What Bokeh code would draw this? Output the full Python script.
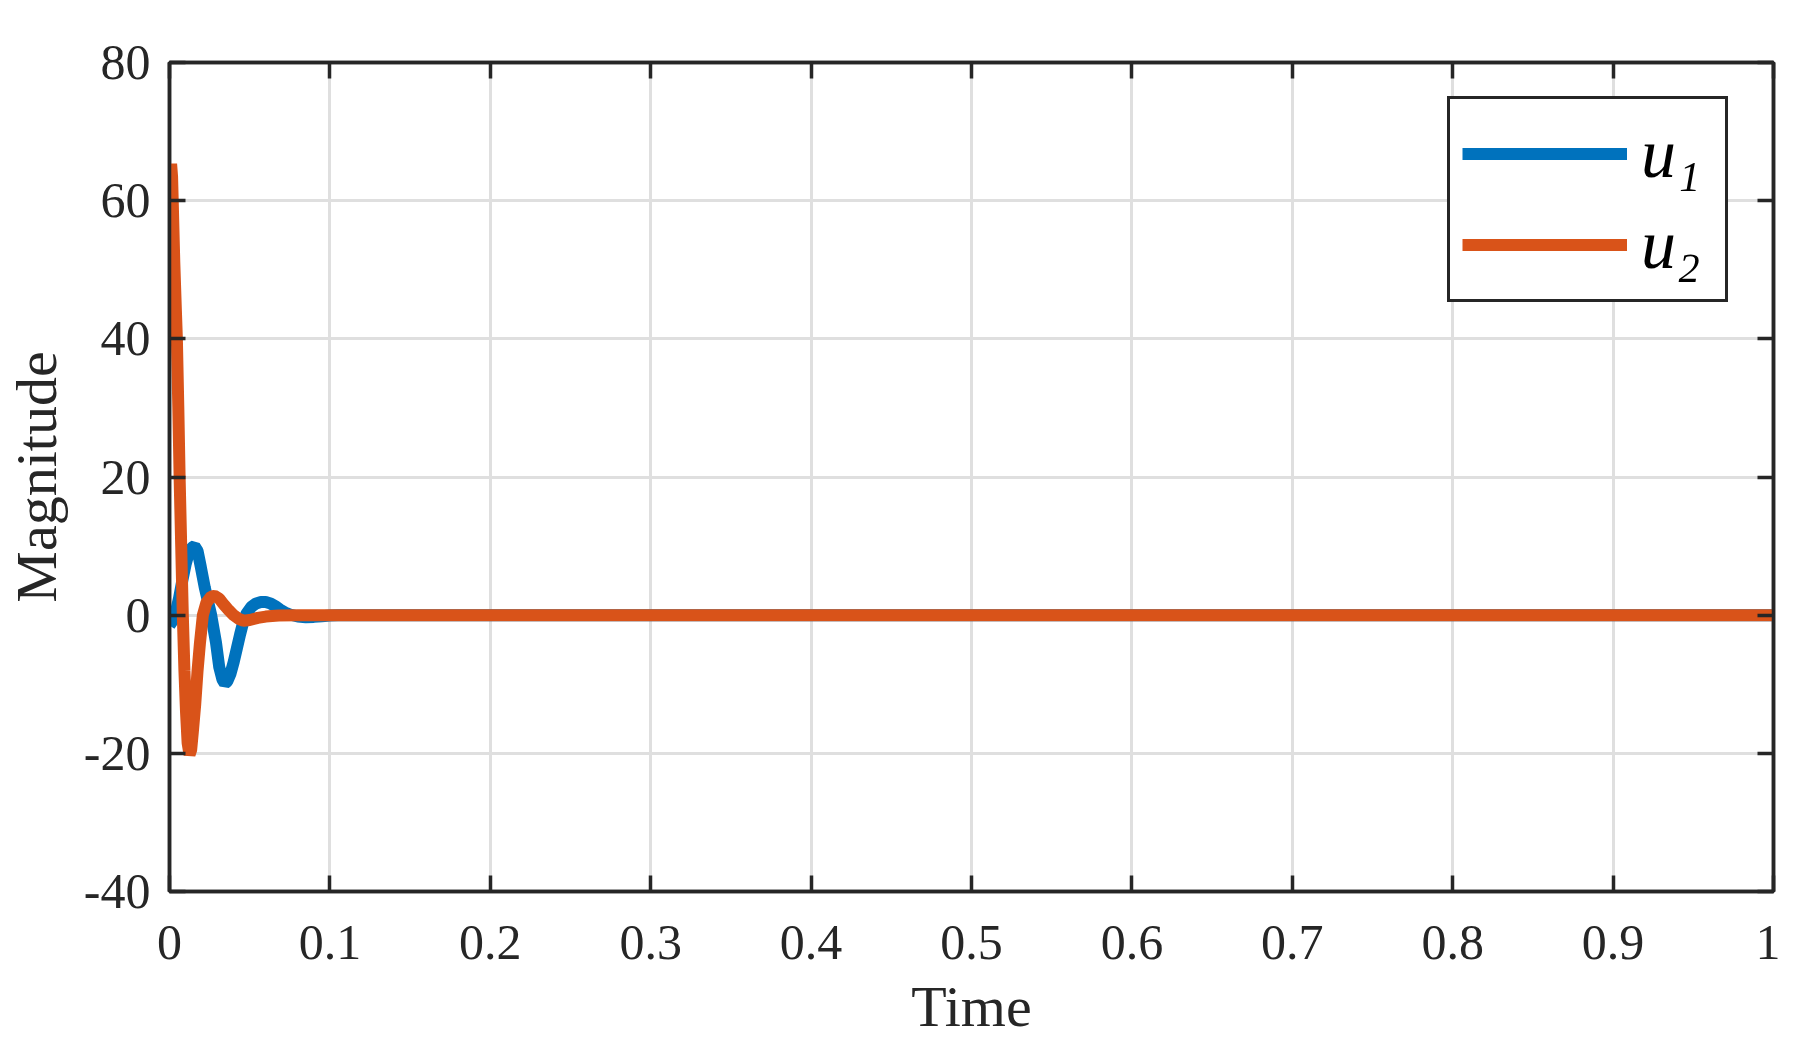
from bokeh.plotting import figure
from bokeh.models import (ColumnDataSource, LinearAxis, FixedTicker, Legend, LegendItem,
                          Range1d, CustomJSTickFormatter)
from bokeh.embed import file_html
from bokeh.resources import INLINE

# ---- data ----
t_u1 = [0, 0.002, 0.004, 0.006, 0.008, 0.010, 0.012, 0.014, 0.0156, 0.0175, 0.0195,
        0.022, 0.026, 0.029, 0.031, 0.033, 0.0345, 0.036, 0.038, 0.040, 0.042, 0.044,
        0.046, 0.048, 0.051, 0.054, 0.057, 0.060, 0.063, 0.066, 0.069, 0.072, 0.075,
        0.080, 0.085, 0.090, 0.095, 0.100, 0.105, 1.0]
u1 = [-1.5, -0.8, 0.5, 2.5, 5.0, 7.3, 9.0, 9.8, 10.0, 9.3, 7.0,
      4.0, 0.0, -4.0, -7.5, -9.3, -9.9, -9.6, -8.5, -6.8, -4.8, -2.8,
      -1.0, 0.2, 1.2, 1.7, 1.9, 1.9, 1.7, 1.3, 0.8, 0.4, 0.1,
      -0.2, -0.3, -0.25, -0.15, -0.05, 0.0, 0.0]

t_u2 = [0, 0.0004, 0.001, 0.0016, 0.002, 0.003, 0.004, 0.0046, 0.0055, 0.0063, 0.0073,
        0.0083, 0.0093, 0.0103, 0.0113, 0.0125, 0.0135, 0.0145, 0.016, 0.0175, 0.019,
        0.0208, 0.023, 0.026, 0.028, 0.031, 0.034, 0.037, 0.040, 0.043, 0.046, 0.050,
        0.055, 0.060, 0.068, 0.080, 1.0]
u2 = [60.0, 64.0, 65.3, 63.5, 60.0, 51.0, 44.0, 40.0, 30.0, 20.0, 10.0,
      0.0, -8.0, -14.0, -18.5, -20.2, -19.5, -17.0, -13.0, -8.0, -4.0,
      0.0, 1.8, 2.7, 2.8, 2.4, 1.5, 0.7, 0.0, -0.5, -0.8, -0.7,
      -0.4, -0.2, -0.05, 0.0, 0.0]

x_ticks = [0, 0.1, 0.2, 0.3, 0.4, 0.5, 0.6, 0.7, 0.8, 0.9, 1.0]
x_tick_labels = ["0", "0.1", "0.2", "0.3", "0.4", "0.5", "0.6", "0.7", "0.8", "0.9", "1"]
y_ticks = [-40, -20, 0, 20, 40, 60, 80]
y_tick_labels = ["-40", "-20", "0", "20", "40", "60", "80"]
series_names = ["u\u2081", "u\u2082"]
x_label = "Time"
y_label = "Magnitude"

# ---- style ----
BLUE = "#0072BD"
ORANGE = "#D95319"
AX = "#262626"
GRID = "#DFDFDF"
FONT = "Liberation Serif"

p = figure(width=1780, height=1044, output_backend="svg", toolbar_location=None,
           x_range=Range1d(0, 1), y_range=Range1d(-40, 80),
           min_border_left=161, min_border_right=7, min_border_top=62, min_border_bottom=153)
p.background_fill_color = "white"
p.border_fill_color = "white"
p.outline_line_color = AX
p.outline_line_width = 3.5
p.outline_line_alpha = 1.0

src1 = ColumnDataSource(dict(t=t_u1, v=u1))
src2 = ColumnDataSource(dict(t=t_u2, v=u2))
r1 = p.line("t", "v", source=src1, line_color=BLUE, line_width=12)
r2 = p.line("t", "v", source=src2, line_color=ORANGE, line_width=12)

def style_axis(ax, labels=True):
    ax.axis_line_color = AX
    ax.axis_line_width = 3.5
    ax.major_tick_line_color = AX
    ax.major_tick_line_width = 3.5
    ax.major_tick_in = 16
    ax.major_tick_out = 0
    ax.minor_tick_line_color = None
    if labels:
        ax.major_label_text_font = FONT
        ax.major_label_text_font_size = "50px"
        ax.major_label_text_color = AX
        ax.axis_label_text_font = FONT
        ax.axis_label_text_font_size = "58px"
        ax.axis_label_text_font_style = "normal"
        ax.axis_label_text_color = AX
    else:
        ax.formatter = CustomJSTickFormatter(code="return ''")
        ax.major_label_standoff = 0

xa = p.xaxis[0]
ya = p.yaxis[0]
xa.ticker = FixedTicker(ticks=x_ticks)
ya.ticker = FixedTicker(ticks=y_ticks)
xa.major_label_overrides = dict(zip(x_ticks, x_tick_labels))
ya.major_label_overrides = dict(zip(y_ticks, y_tick_labels))
style_axis(xa)
style_axis(ya)
xa.axis_label = x_label
ya.axis_label = y_label
xa.major_label_standoff = 34
ya.major_label_standoff = 19
xa.axis_label_standoff = 12
ya.axis_label_standoff = 12

ra = LinearAxis(ticker=FixedTicker(ticks=y_ticks))
ta = LinearAxis(ticker=FixedTicker(ticks=x_ticks))
style_axis(ra, labels=False)
style_axis(ta, labels=False)
p.add_layout(ra, "right")
p.add_layout(ta, "above")

p.xgrid.ticker = FixedTicker(ticks=x_ticks)
p.ygrid.ticker = FixedTicker(ticks=y_ticks)
p.grid.grid_line_color = GRID
p.grid.grid_line_width = 3

legend = Legend(items=[LegendItem(label=series_names[0], renderers=[r1]),
                       LegendItem(label=series_names[1], renderers=[r2])],
                location=(1278, 589))
legend.label_text_font = FONT
legend.label_text_font_style = "italic"
legend.label_text_font_size = "70px"
legend.label_text_color = "black"
legend.glyph_width = 165
legend.glyph_height = 85
legend.label_height = 85
legend.label_width = 72
legend.label_standoff = 14
legend.spacing = 6
legend.padding = 12
legend.margin = 0
legend.border_line_color = AX
legend.border_line_width = 3.5
legend.border_line_alpha = 1.0
legend.background_fill_color = "white"
legend.background_fill_alpha = 1.0
p.add_layout(legend, "center")

open("out.html", "w").write(file_html(p, INLINE))
